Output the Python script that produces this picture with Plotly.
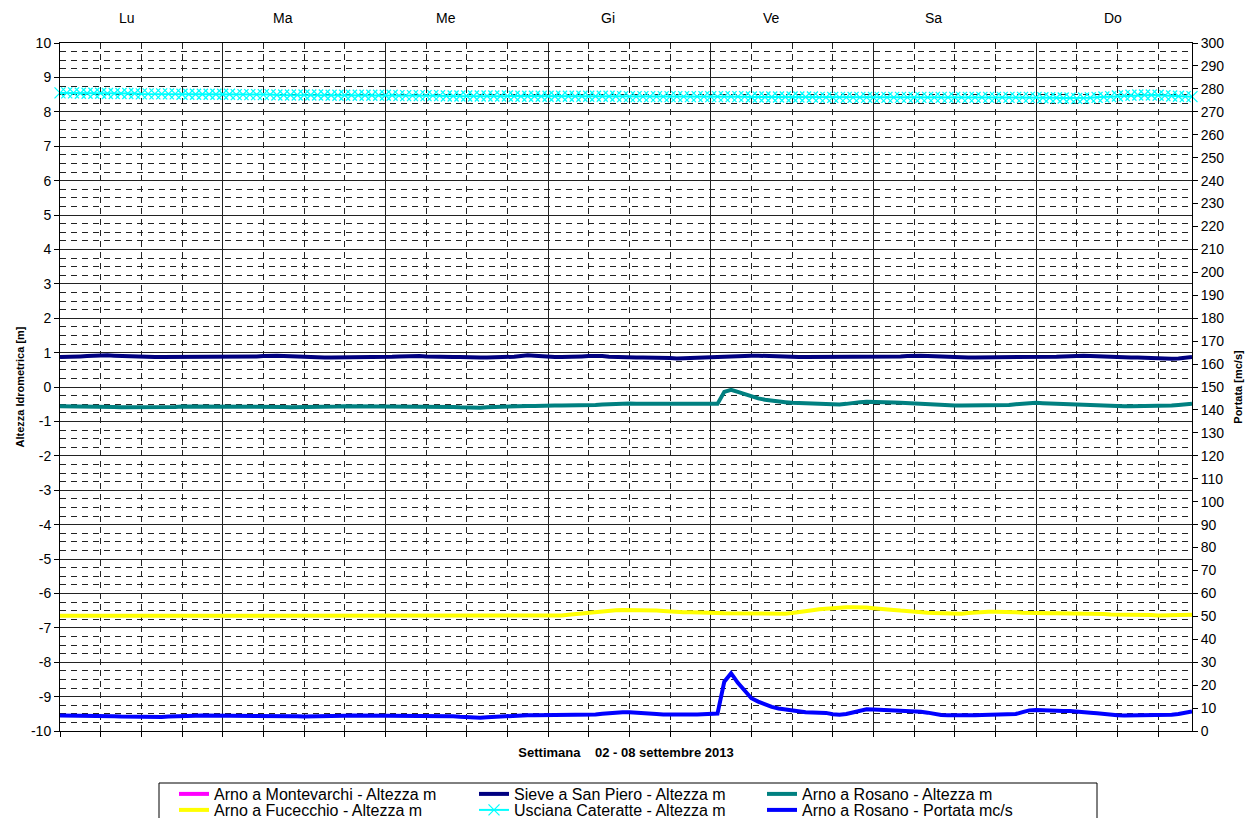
import plotly.graph_objects as go
import pandas as pd

# ---------------- data (hourly, 02-08 Sep 2013) ----------------
times = pd.date_range("2013-09-02 00:00", periods=168, freq="h")

day_labels = ["Lu", "Ma", "Me", "Gi", "Ve", "Sa", "Do"]

left_ticks = [-10, -9, -8, -7, -6, -5, -4, -3, -2, -1, 0, 1, 2, 3, 4, 5, 6, 7, 8, 9, 10]
left_tick_text = ["-10", "-9", "-8", "-7", "-6", "-5", "-4", "-3", "-2", "-1",
                  "0", "1", "2", "3", "4", "5", "6", "7", "8", "9", "10"]

series_names = [
    "Arno a Montevarchi - Altezza m",
    "Sieve a San Piero - Altezza m",
    "Arno a Rosano - Altezza m",
    "Arno a Fucecchio - Altezza m",
    "Usciana Cateratte - Altezza m",
    "Arno a Rosano - Portata mc/s",
]

# no data available for Montevarchi in this week
montevarchi_m = [None] * 168

sieve_m = [
    0.87, 0.87, 0.88, 0.89, 0.90, 0.91, 0.92, 0.92, 0.91, 0.90, 0.89, 0.88, 0.87, 0.87, 0.87, 0.87, 0.87, 0.87, 0.87, 0.87, 0.87, 0.87, 0.87, 0.87,
    0.87, 0.87, 0.87, 0.87, 0.88, 0.89, 0.90, 0.91, 0.91, 0.90, 0.89, 0.88, 0.87, 0.87, 0.87, 0.86, 0.86, 0.86, 0.87, 0.87, 0.87, 0.87, 0.87, 0.87,
    0.87, 0.88, 0.89, 0.90, 0.91, 0.90, 0.89, 0.88, 0.87, 0.87, 0.87, 0.87, 0.86, 0.86, 0.86, 0.86, 0.86, 0.87, 0.87, 0.88, 0.90, 0.92, 0.91, 0.89,
    0.88, 0.87, 0.87, 0.87, 0.88, 0.89, 0.90, 0.91, 0.90, 0.88, 0.87, 0.87, 0.87, 0.86, 0.86, 0.86, 0.85, 0.85, 0.84, 0.83, 0.83, 0.84, 0.85, 0.86,
    0.87, 0.87, 0.87, 0.88, 0.89, 0.90, 0.91, 0.91, 0.90, 0.89, 0.88, 0.87, 0.87, 0.87, 0.87, 0.87, 0.87, 0.87, 0.87, 0.87, 0.87, 0.87, 0.87, 0.87,
    0.87, 0.87, 0.87, 0.88, 0.89, 0.90, 0.91, 0.91, 0.90, 0.89, 0.88, 0.87, 0.87, 0.87, 0.86, 0.86, 0.86, 0.86, 0.87, 0.87, 0.87, 0.87, 0.87, 0.87,
    0.87, 0.87, 0.87, 0.88, 0.89, 0.90, 0.91, 0.91, 0.90, 0.89, 0.88, 0.87, 0.87, 0.86, 0.86, 0.86, 0.85, 0.84, 0.83, 0.82, 0.82, 0.83, 0.85, 0.87,
]

rosano_m = [
    -0.56, -0.56, -0.56, -0.56, -0.57, -0.57, -0.57, -0.58, -0.58, -0.59, -0.59, -0.60, -0.60, -0.60, -0.60, -0.59, -0.58, -0.58, -0.57, -0.57, -0.56, -0.56, -0.56, -0.56,
    -0.56, -0.56, -0.56, -0.56, -0.57, -0.57, -0.57, -0.57, -0.58, -0.58, -0.59, -0.59, -0.59, -0.59, -0.58, -0.58, -0.57, -0.57, -0.56, -0.56, -0.56, -0.56, -0.56, -0.56,
    -0.56, -0.56, -0.56, -0.56, -0.56, -0.56, -0.57, -0.57, -0.57, -0.58, -0.58, -0.59, -0.60, -0.60, -0.60, -0.59, -0.58, -0.57, -0.56, -0.55, -0.55, -0.55, -0.55, -0.54,
    -0.54, -0.54, -0.54, -0.54, -0.54, -0.53, -0.53, -0.52, -0.51, -0.50, -0.49, -0.48, -0.48, -0.49, -0.49, -0.50, -0.50, -0.51, -0.51, -0.51, -0.51, -0.51, -0.50, -0.50,
    -0.50, -0.49, -0.14, -0.08, -0.14, -0.21, -0.28, -0.33, -0.37, -0.40, -0.42, -0.44, -0.46, -0.47, -0.48, -0.49, -0.50, -0.51, -0.52, -0.51, -0.49, -0.46, -0.44, -0.43,
    -0.43, -0.44, -0.45, -0.45, -0.46, -0.47, -0.49, -0.51, -0.52, -0.53, -0.53, -0.53, -0.54, -0.54, -0.54, -0.54, -0.53, -0.53, -0.53, -0.53, -0.52, -0.50, -0.48, -0.46,
    -0.46, -0.47, -0.48, -0.48, -0.48, -0.49, -0.50, -0.51, -0.52, -0.53, -0.54, -0.55, -0.55, -0.56, -0.56, -0.56, -0.56, -0.56, -0.55, -0.55, -0.54, -0.52, -0.50, -0.49,
]

fucecchio_m = [
    -6.65, -6.65, -6.65, -6.66, -6.66, -6.66, -6.66, -6.65, -6.65, -6.65, -6.65, -6.64, -6.64, -6.64, -6.65, -6.65, -6.65, -6.66, -6.66, -6.66, -6.65, -6.65, -6.65, -6.65,
    -6.65, -6.65, -6.65, -6.65, -6.66, -6.66, -6.66, -6.65, -6.65, -6.64, -6.64, -6.64, -6.64, -6.64, -6.65, -6.65, -6.65, -6.65, -6.65, -6.65, -6.64, -6.64, -6.64, -6.65,
    -6.65, -6.65, -6.65, -6.65, -6.65, -6.65, -6.66, -6.66, -6.66, -6.65, -6.65, -6.65, -6.64, -6.64, -6.64, -6.65, -6.65, -6.65, -6.65, -6.65, -6.65, -6.65, -6.65, -6.65,
    -6.65, -6.65, -6.64, -6.62, -6.60, -6.58, -6.55, -6.53, -6.51, -6.50, -6.49, -6.48, -6.48, -6.48, -6.48, -6.49, -6.50, -6.51, -6.53, -6.54, -6.55, -6.55, -6.55, -6.55,
    -6.56, -6.57, -6.58, -6.58, -6.59, -6.59, -6.60, -6.60, -6.60, -6.60, -6.60, -6.59, -6.57, -6.55, -6.52, -6.49, -6.46, -6.44, -6.42, -6.41, -6.40, -6.40, -6.40, -6.41,
    -6.43, -6.44, -6.46, -6.48, -6.50, -6.52, -6.54, -6.55, -6.56, -6.57, -6.58, -6.59, -6.60, -6.59, -6.57, -6.55, -6.53, -6.53, -6.53, -6.53, -6.54, -6.55, -6.56, -6.57,
    -6.58, -6.58, -6.58, -6.58, -6.58, -6.59, -6.59, -6.60, -6.60, -6.60, -6.60, -6.61, -6.61, -6.61, -6.62, -6.62, -6.63, -6.63, -6.64, -6.64, -6.64, -6.63, -6.62, -6.62,
]

usciana_m = [
    8.55, 8.55, 8.55, 8.54, 8.54, 8.54, 8.54, 8.53, 8.53, 8.53, 8.53, 8.53, 8.52, 8.52, 8.52, 8.52, 8.52, 8.52, 8.51, 8.51, 8.51, 8.51, 8.51, 8.51,
    8.51, 8.51, 8.50, 8.50, 8.50, 8.50, 8.50, 8.50, 8.49, 8.49, 8.49, 8.49, 8.49, 8.49, 8.49, 8.49, 8.48, 8.48, 8.48, 8.48, 8.48, 8.48, 8.48, 8.48,
    8.48, 8.48, 8.47, 8.47, 8.47, 8.47, 8.47, 8.47, 8.47, 8.46, 8.46, 8.46, 8.46, 8.46, 8.46, 8.46, 8.46, 8.46, 8.46, 8.45, 8.45, 8.45, 8.45, 8.45,
    8.45, 8.45, 8.45, 8.45, 8.45, 8.45, 8.45, 8.45, 8.45, 8.45, 8.45, 8.44, 8.44, 8.44, 8.44, 8.44, 8.44, 8.44, 8.44, 8.44, 8.44, 8.44, 8.44, 8.44,
    8.44, 8.44, 8.44, 8.44, 8.44, 8.44, 8.43, 8.43, 8.43, 8.43, 8.43, 8.43, 8.43, 8.43, 8.43, 8.43, 8.42, 8.42, 8.42, 8.42, 8.42, 8.42, 8.42, 8.42,
    8.42, 8.42, 8.42, 8.42, 8.42, 8.42, 8.42, 8.42, 8.42, 8.42, 8.42, 8.42, 8.42, 8.42, 8.42, 8.42, 8.42, 8.42, 8.42, 8.42, 8.42, 8.42, 8.42, 8.42,
    8.42, 8.41, 8.41, 8.41, 8.40, 8.40, 8.39, 8.40, 8.41, 8.42, 8.43, 8.44, 8.46, 8.47, 8.48, 8.49, 8.49, 8.49, 8.48, 8.47, 8.46, 8.45, 8.44, 8.44,
]

rosano_q = [
    6.8, 6.8, 6.7, 6.7, 6.6, 6.6, 6.5, 6.5, 6.4, 6.3, 6.2, 6.1, 6.0, 5.9, 6.0, 6.1, 6.3, 6.5, 6.6, 6.7, 6.7, 6.8, 6.8, 6.8,
    6.8, 6.8, 6.8, 6.7, 6.7, 6.7, 6.6, 6.6, 6.6, 6.5, 6.4, 6.4, 6.3, 6.3, 6.4, 6.5, 6.6, 6.7, 6.7, 6.8, 6.8, 6.8, 6.8, 6.8,
    6.8, 6.8, 6.8, 6.7, 6.7, 6.7, 6.7, 6.6, 6.6, 6.5, 6.4, 6.2, 6.0, 5.8, 5.8, 6.0, 6.2, 6.5, 6.7, 6.8, 6.8, 6.9, 6.9, 6.9,
    6.9, 6.9, 6.9, 6.9, 6.9, 7.0, 7.0, 7.2, 7.5, 7.8, 8.1, 8.2, 8.2, 8.1, 7.9, 7.6, 7.4, 7.2, 7.1, 7.1, 7.1, 7.2, 7.2, 7.2,
    7.2, 7.6, 21.5, 25.2, 21.0, 17.5, 14.3, 12.8, 11.5, 10.5, 9.8, 9.3, 9.0, 8.6, 8.2, 8.1, 8.1, 7.9, 7.3, 7.1, 7.4, 8.2, 9.0, 9.5,
    9.4, 9.3, 9.1, 8.9, 8.7, 8.6, 8.5, 8.4, 8.0, 7.3, 7.0, 6.9, 6.8, 6.8, 6.8, 6.9, 7.0, 7.1, 7.0, 6.9, 7.0, 7.4, 8.2, 9.0,
    9.2, 9.0, 8.8, 8.7, 8.7, 8.7, 8.6, 8.3, 8.0, 7.7, 7.3, 7.0, 6.9, 6.8, 6.8, 6.8, 6.8, 6.8, 6.9, 7.0, 7.1, 7.4, 8.0, 8.5,
]

# ---------------- figure ----------------
FONT = "Arial, 'Liberation Sans', sans-serif"
W, H = 1253, 818
ML, MR, MT, MB = 60, 61, 43, 87
PW, PH = W - ML - MR, H - MT - MB


def px_x(px):
    return (px - ML) / PW


def px_y(py):
    return (H - MB - py) / PH


fig = go.Figure()

traces = [
    # (values, name index, colour, axis, legend id)
    (montevarchi_m, 0, "#FF00FF", "y", "legend"),
    (sieve_m, 1, "#000080", "y", "legend2"),
    (rosano_m, 2, "#008080", "y", "legend3"),
    (fucecchio_m, 3, "#FFFF00", "y", "legend4"),
    (usciana_m, 4, "#00FFFF", "y", "legend5"),
    (rosano_q, 5, "#0000FF", "y2", "legend6"),
]
for vals, idx, col, ax, leg in traces:
    if idx == 4:
        fig.add_trace(go.Scatter(
            x=times, y=vals, name=series_names[idx], mode="lines+markers", yaxis=ax,
            line=dict(color=col, width=2),
            marker=dict(symbol="x-thin", size=11, line=dict(color=col, width=1.3)),
            cliponaxis=False, legend=leg))
    else:
        fig.add_trace(go.Scatter(
            x=times, y=vals, name=series_names[idx], mode="lines", yaxis=ax,
            line=dict(color=col, width=4), legend=leg))

dash = "6px,5px"
legend_style = dict(xanchor="left", yanchor="middle", bgcolor="rgba(0,0,0,0)",
                    font=dict(size=16), borderwidth=0, tracegroupgap=0)
col_px = [174, 474, 762]
row_px = [794, 810]
legend_layout = {}
for i in range(6):
    key = "legend" if i == 0 else f"legend{i + 1}"
    legend_layout[key] = dict(x=px_x(col_px[i % 3]), y=px_y(row_px[i // 3]), **legend_style)

fig.update_layout(
    width=W, height=H,
    margin=dict(l=ML, r=MR, t=MT, b=MB, autoexpand=False),
    paper_bgcolor="white", plot_bgcolor="white",
    font=dict(family=FONT, size=14, color="black"),
    xaxis=dict(
        type="date",
        range=["2013-09-02 00:00", "2013-09-08 23:00"],
        tick0="2013-09-02", dtick=86400000,
        showticklabels=False,
        ticks="outside", ticklen=5, tickcolor="black",
        showgrid=True, gridcolor="#222", gridwidth=1,
        showline=True, linecolor="black", linewidth=1, mirror=True,
        zeroline=False,
        minor=dict(dtick=21600000, showgrid=True, gridcolor="#222", griddash=dash,
                   ticks="outside", ticklen=5, tickcolor="black"),
        title=dict(text="<b>Settimana\u00a0\u00a0\u00a0\u00a002 - 08 settembre 2013</b>",
                   font=dict(size=13), standoff=11),
    ),
    yaxis=dict(
        range=[-10, 10], tickmode="array", tickvals=left_ticks, ticktext=left_tick_text,
        ticks="outside", ticklen=5, tickcolor="black",
        showgrid=True, gridcolor="#222", gridwidth=1,
        showline=True, linecolor="black", linewidth=1,
        zeroline=False,
        minor=dict(tickmode="linear", tick0=0, dtick=0.25, showgrid=True,
                   gridcolor="#222", griddash=dash),
        title=dict(text="<b>Altezza Idrometrica [m]</b>", font=dict(size=11), standoff=4),
    ),
    yaxis2=dict(
        overlaying="y", side="right",
        range=[0, 300], dtick=10, tick0=0,
        ticks="outside", ticklen=5, tickcolor="black",
        showgrid=False, zeroline=False,
        showline=True, linecolor="black", linewidth=1,
        title=dict(text="<b>Portata [mc/s]</b>", font=dict(size=11), standoff=10),
    ),
    showlegend=True,
    **legend_layout,
)

# legend frame
fig.add_shape(type="rect", xref="paper", yref="paper",
              x0=px_x(159), x1=px_x(1097), y0=px_y(783), y1=px_y(830),
              line=dict(color="black", width=1), fillcolor="rgba(0,0,0,0)")

# day labels along the top
label_hours = [9.9, 32.9, 57.0, 80.9, 104.9, 128.8, 155.3]
for lab, hh in zip(day_labels, label_hours):
    fig.add_annotation(x=pd.Timestamp("2013-09-02") + pd.Timedelta(hours=hh), xref="x",
                       y=px_y(18), yref="paper", text=lab, showarrow=False,
                       font=dict(size=14), xanchor="center", yanchor="middle")

fig.write_html("out.html", config={"displayModeBar": False},
               post_script="document.body.style.margin='0px';")
